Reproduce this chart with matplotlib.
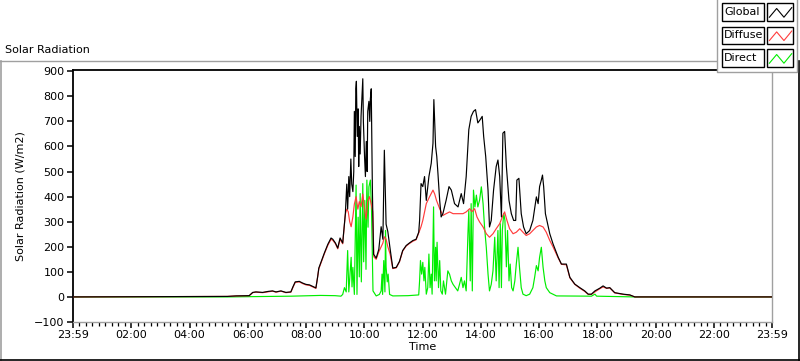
import matplotlib
matplotlib.use('Agg')
import matplotlib.pyplot as plt
from matplotlib.lines import Line2D
from matplotlib.patches import Rectangle
from matplotlib.ticker import FixedLocator, MultipleLocator

# ---------------- data (hours since 23:59, W/m2) ----------------
t_global = [0, 5.30, 5.60, 6.05, 6.17, 6.28, 6.51, 6.70, 6.85, 6.97, 7.14, 7.31, 7.48, 7.55, 7.63,
            7.77, 7.89, 8.00, 8.12, 8.23, 8.34, 8.40, 8.44, 8.52, 8.63, 8.75, 8.86, 8.92, 9.01,
            9.09, 9.17, 9.26, 9.35, 9.40, 9.43, 9.47, 9.50, 9.54, 9.57, 9.61, 9.64, 9.66, 9.69,
            9.71, 9.73, 9.76, 9.79, 9.81, 9.83, 9.86, 9.89, 9.93, 9.95, 9.97, 10.01, 10.04, 10.07,
            10.10, 10.12, 10.16, 10.19, 10.21, 10.24, 10.26, 10.28, 10.32, 10.41, 10.50, 10.58,
            10.64, 10.69, 10.75, 10.81, 10.89, 10.98, 11.10, 11.21, 11.32, 11.44, 11.55, 11.67,
            11.78, 11.87, 11.90, 11.95, 12.01, 12.07, 12.13, 12.22, 12.30, 12.36, 12.39, 12.45,
            12.49, 12.53, 12.59, 12.64, 12.70, 12.81, 12.91, 12.99, 13.10, 13.22, 13.33, 13.41,
            13.50, 13.59, 13.67, 13.75, 13.82, 13.90, 13.98, 14.05, 14.10, 14.17, 14.25, 14.30,
            14.36, 14.44, 14.53, 14.59, 14.65, 14.71, 14.76, 14.82, 14.88, 14.97, 15.05, 15.13,
            15.20, 15.24, 15.31, 15.39, 15.47, 15.56, 15.68, 15.79, 15.91, 15.97, 16.02, 16.08,
            16.12, 16.16, 16.22, 16.37, 16.48, 16.66, 16.77, 16.94, 17.06, 17.23, 17.40, 17.57,
            17.69, 17.80, 17.92, 18.09, 18.20, 18.32, 18.43, 18.60, 18.89, 19.12, 19.29, 24]
global_wm2 = [0, 2, 4, 5, 18, 20, 18, 22, 24, 20, 24, 18, 20, 40, 60,
              62, 55, 50, 48, 42, 36, 80, 115, 140, 175, 210, 235, 230, 215,
              195, 235, 215, 330, 450, 350, 480, 400, 550, 450, 420, 500, 740, 560,
              830, 860, 640, 750, 520, 680, 570, 720, 820, 870, 700, 560, 480, 620,
              500, 740, 780, 700, 790, 830, 620, 420, 170, 155, 190, 280,
              230, 585, 290, 260, 190, 115, 118, 142, 185, 205, 215, 225,
              230, 258, 305, 452, 440, 480, 385, 480, 533, 613, 787, 600,
              560, 493, 385, 319, 332, 385, 440, 426, 372, 359, 412, 372,
              480, 667, 720, 740, 747, 694, 707, 720, 640, 560, 426, 279,
              305, 426, 520, 546, 480, 319, 653, 660, 520, 385, 332, 305,
              305, 466, 473, 332, 279, 252, 265, 305, 399, 372, 440, 466,
              486, 440, 332, 252, 212, 158, 131, 131, 78, 51, 37, 24,
              11, 11, 24, 35, 44, 35, 37, 17, 11, 8, 0, 0]

t_diffuse = [0, 5.30, 5.60, 6.05, 6.17, 6.28, 6.51, 6.85, 6.97, 7.14, 7.31, 7.48, 7.63, 7.77, 7.89,
             8.00, 8.12, 8.23, 8.34, 8.44, 8.52, 8.63, 8.75, 8.86, 8.92, 9.01, 9.09, 9.17, 9.26,
             9.35, 9.40, 9.45, 9.50, 9.55, 9.61, 9.66, 9.72, 9.78, 9.83, 9.89, 9.95, 10.01, 10.06,
             10.12, 10.18, 10.24, 10.29, 10.33, 10.41, 10.50, 10.58, 10.64, 10.69, 10.75, 10.81,
             10.89, 10.98, 11.10, 11.21, 11.32, 11.44, 11.55, 11.67, 11.78, 11.87, 11.95, 12.01,
             12.13, 12.24, 12.36, 12.42, 12.48, 12.59, 12.70, 12.81, 12.93, 13.05, 13.16, 13.39,
             13.50, 13.62, 13.70, 13.79, 13.87, 13.96, 14.08, 14.19, 14.30, 14.42, 14.53, 14.65,
             14.76, 14.82, 14.90, 14.99, 15.11, 15.22, 15.34, 15.45, 15.56, 15.68, 15.79, 15.91,
             16.02, 16.14, 16.25, 16.37, 16.48, 16.66, 16.77, 16.94, 17.06, 17.23, 17.40, 17.57,
             17.69, 17.80, 17.92, 18.09, 18.20, 18.32, 18.43, 18.60, 18.89, 19.12, 19.29, 24]
diffuse_wm2 = [0, 2, 4, 5, 17, 19, 17, 23, 19, 23, 17, 19, 58, 60, 53,
               48, 46, 40, 34, 112, 137, 172, 206, 230, 226, 212, 192, 230, 212,
               330, 350, 340, 300, 280, 320, 370, 400, 350, 380, 360, 410, 350, 310,
               380, 400, 370, 340, 160, 150, 180, 200, 215, 240, 230, 200,
               170, 113, 116, 140, 183, 203, 213, 222, 228, 255, 280, 305,
               372, 399, 426, 410, 385, 352, 325, 332, 339, 332, 332, 332,
               339, 352, 340, 352, 319, 299, 279, 252, 238, 252, 272, 292,
               325, 339, 305, 272, 252, 258, 272, 258, 245, 252, 265, 279,
               285, 279, 258, 225, 200, 155, 130, 128, 76, 50, 35, 22,
               10, 10, 20, 33, 40, 34, 36, 16, 10, 7, 0, 0]

t_direct = [0, 5.30, 7.50, 8.50, 9.00, 9.20, 9.26, 9.32, 9.38, 9.43, 9.47, 9.55, 9.58, 9.61, 9.66,
            9.72, 9.75, 9.79, 9.83, 9.86, 9.90, 9.95, 9.98, 10.02, 10.06, 10.09, 10.13, 10.16,
            10.21, 10.25, 10.30, 10.41, 10.52, 10.58, 10.61, 10.63, 10.67, 10.71, 10.73, 10.75,
            10.79, 10.82, 10.87, 10.98, 11.50, 11.87, 11.90, 11.93, 11.97, 12.01, 12.05, 12.08,
            12.13, 12.18, 12.22, 12.26, 12.30, 12.33, 12.38, 12.41, 12.45, 12.47, 12.50, 12.55,
            12.59, 12.63, 12.68, 12.72, 12.79, 12.87, 12.93, 12.99, 13.05, 13.13, 13.21, 13.27,
            13.33, 13.39, 13.44, 13.50, 13.56, 13.59, 13.64, 13.67, 13.71, 13.75, 13.80, 13.85,
            13.90, 13.96, 14.02, 14.08, 14.13, 14.19, 14.25, 14.30, 14.36, 14.42, 14.48, 14.53,
            14.59, 14.63, 14.67, 14.71, 14.74, 14.79, 14.83, 14.88, 14.92, 14.97, 15.01, 15.06,
            15.11, 15.17, 15.22, 15.28, 15.33, 15.39, 15.45, 15.56, 15.68, 15.79, 15.85, 15.91,
            15.97, 16.02, 16.08, 16.11, 16.14, 16.20, 16.25, 16.37, 16.48, 16.60, 17.80, 17.92,
            17.98, 19.29, 24]
direct_wm2 = [0, 0, 3, 6, 5, 3, 10, 37, 20, 185, 20, 158, 40, 118, 10,
              446, 10, 318, 80, 412, 60, 452, 140, 385, 110, 466, 278, 439,
              466, 345, 24, 4, 10, 24, 91, 10, 145, 20, 265, 120,
              60, 91, 10, 4, 5, 8, 64, 145, 91, 138, 64, 118,
              11, 37, 171, 37, 91, 11, 359, 64, 198, 64, 218, 37,
              145, 24, 11, 64, 11, 104, 90, 64, 50, 37, 24, 50,
              78, 37, 64, 24, 252, 345, 64, 372, 24, 426, 359, 406,
              359, 386, 439, 372, 279, 198, 91, 24, 50, 104, 238, 64,
              265, 37, 292, 37, 265, 332, 305, 120, 265, 64, 131, 37,
              24, 64, 131, 198, 118, 37, 11, 5, 11, 37, 78, 125,
              104, 158, 198, 160, 118, 64, 37, 17, 11, 4, 3, 11,
              3, 0, 0]

x_tick_pos = [0, 2, 4, 6, 8, 10, 12, 14, 16, 18, 20, 22, 24]
x_tick_labels = ["23:59", "02:00", "04:00", "06:00", "08:00", "10:00", "12:00",
                 "14:00", "16:00", "18:00", "20:00", "22:00", "23:59"]
y_ticks = [-100, 0, 100, 200, 300, 400, 500, 600, 700, 800, 900]
series_names = ["Global", "Diffuse", "Direct"]
series_colors = ["#000000", "#ff3c3c", "#00ee00"]

# ---------------- figure ----------------
W, H = 800, 361
fig = plt.figure(figsize=(W / 100, H / 100), dpi=100)
fig.patch.set_facecolor('white')


def fx(x):
    return x / W


def fy(y):
    return 1 - y / H


ax = fig.add_axes([fx(73), fy(322), fx(772) - fx(73), fy(70) - fy(322)])
ax.set_facecolor('white')

lw = 0.85
ax.plot(t_direct, direct_wm2, color=series_colors[2], lw=lw, zorder=2)
ax.plot(t_diffuse, diffuse_wm2, color=series_colors[1], lw=lw, zorder=3)
ax.plot(t_global, global_wm2, color=series_colors[0], lw=lw, zorder=4)

ax.set_xlim(0, 24)
ax.set_ylim(-100, 905)
ax.xaxis.set_major_locator(FixedLocator(x_tick_pos))
ax.set_xticklabels(x_tick_labels)
ax.xaxis.set_minor_locator(MultipleLocator(2 / 9))
ax.set_yticks(y_ticks)
ax.tick_params(axis='both', which='major', direction='out', length=4, width=1.1,
               labelsize=8, pad=2, color='black')
ax.tick_params(axis='x', which='minor', direction='out', length=3, width=0.9, color='black')

for side in ['left', 'top']:
    ax.spines[side].set_color('black')
    ax.spines[side].set_linewidth(1.3)
for side in ['right', 'bottom']:
    ax.spines[side].set_color('#a0a0a0')
    ax.spines[side].set_linewidth(1.0)

ax.set_xlabel("Time", fontsize=8, labelpad=1)
ax.set_ylabel("Solar Radiation (W/m2)", fontsize=8, labelpad=6)

# outer panel frame
fig.add_artist(Line2D([fx(0), fx(717)], [fy(61), fy(61)], color='#a0a0a0', lw=1.0,
                      transform=fig.transFigure))
fig.add_artist(Line2D([fx(1), fx(1)], [fy(61), fy(360)], color='#a0a0a0', lw=1.2,
                      transform=fig.transFigure))
fig.add_artist(Line2D([fx(0), fx(800)], [fy(359.5), fy(359.5)], color='black', lw=1.2,
                      transform=fig.transFigure))
fig.add_artist(Line2D([fx(799), fx(799)], [fy(61), fy(360)], color='black', lw=1.2,
                      transform=fig.transFigure))

fig.text(fx(5), fy(50), "Solar Radiation", fontsize=8, ha='left', va='center')

# legend panel
fig.add_artist(Rectangle((fx(717), fy(72)), fx(797) - fx(717), fy(0) - fy(72),
                         transform=fig.transFigure, facecolor='white', edgecolor='none', zorder=5))
fig.add_artist(Line2D([fx(717), fx(717), fx(797), fx(797)], [fy(0), fy(72), fy(72), fy(0)],
                      color='#a0a0a0', lw=1.0, transform=fig.transFigure, zorder=6))
rows = [(3.3, 20.7), (26.7, 44.0), (49.3, 66.7)]
for (y0, y1), name, col in zip(rows, series_names, series_colors):
    fig.add_artist(Rectangle((fx(722), fy(y1)), fx(764) - fx(722), fy(y0) - fy(y1),
                             transform=fig.transFigure, facecolor='white', edgecolor='black',
                             lw=1.0, zorder=7))
    fig.text(fx(724), fy((y0 + y1) / 2), name, fontsize=8, ha='left', va='center', zorder=8)
    bx0, bx1 = 767.3, 793.3
    fig.add_artist(Rectangle((fx(bx0), fy(y1)), fx(bx1) - fx(bx0), fy(y0) - fy(y1),
                             transform=fig.transFigure, facecolor='white', edgecolor='black',
                             lw=1.0, zorder=7))
    zx = [0.08, 0.36, 0.64, 0.94]
    zy = [0.8, 0.3, 0.8, 0.25]
    fig.add_artist(Line2D([fx(bx0 + f * (bx1 - bx0)) for f in zx],
                          [fy(y0 + g * (y1 - y0)) for g in zy],
                          color=col, lw=0.8, transform=fig.transFigure, zorder=8))

fig.savefig("out.png", dpi=100, facecolor='white')
